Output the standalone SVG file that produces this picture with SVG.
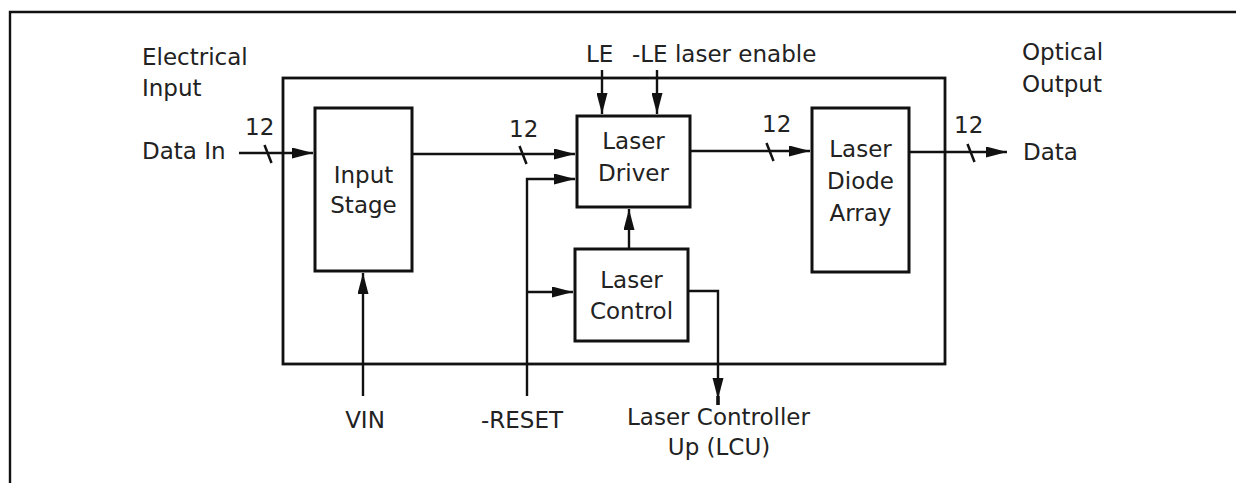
<svg xmlns="http://www.w3.org/2000/svg" width="1236" height="483" viewBox="0 0 1236 483">
<defs>
<marker id="ah" markerUnits="userSpaceOnUse" markerWidth="21" markerHeight="11" refX="21" refY="5.5" orient="auto">
<path d="M0,0 L21,5.5 L0,11 z" fill="#111"/>
</marker>
<style>
text{font-family:"DejaVu Sans","Liberation Sans",sans-serif;font-size:23px;fill:#222}
.m{text-anchor:middle}
.box{fill:#fff;stroke:#111;stroke-width:3}
.ln{fill:none;stroke:#111;stroke-width:2.4}
.arr{fill:none;stroke:#111;stroke-width:2.4;marker-end:url(#ah)}
.tk{stroke:#111;stroke-width:2.5}
</style>
</defs>
<rect width="1236" height="483" fill="#fff"/>
<path d="M10,483 V12 H1236" fill="none" stroke="#111" stroke-width="2.4"/>
<g id="main-box"><rect x="283" y="78" width="662" height="286" fill="none" stroke="#111" stroke-width="2.8"/></g>
<g id="labels">
<text x="142" y="65">Electrical</text>
<text x="142" y="96">Input</text>
<text x="142" y="159">Data In</text>
<text x="1022" y="60">Optical</text>
<text x="1022" y="92">Output</text>
<text x="1023" y="160">Data</text>
<text x="586" y="62">LE</text>
<text x="632" y="62">-LE laser enable</text>
<text x="365" y="428" class="m">VIN</text>
<text x="522" y="428" class="m">-RESET</text>
<text x="718.5" y="425" class="m">Laser Controller</text>
<text x="719" y="455" class="m">Up (LCU)</text>
<text x="245" y="135">12</text>
<text x="509" y="137">12</text>
<text x="762" y="132">12</text>
<text x="954" y="133">12</text>
</g>
<g id="input-stage"><rect class="box" x="315" y="108" width="97" height="163"/>
<text x="363.5" y="183" class="m">Input</text><text x="363.5" y="213" class="m">Stage</text></g>
<g id="laser-driver"><rect class="box" x="577" y="116" width="113" height="91"/>
<text x="633.5" y="149" class="m">Laser</text><text x="633.5" y="181" class="m">Driver</text></g>
<g id="laser-control"><rect class="box" x="575" y="249" width="113" height="92"/>
<text x="631.5" y="288" class="m">Laser</text><text x="631.5" y="319" class="m">Control</text></g>
<g id="laser-diode-array"><rect class="box" x="812" y="108" width="97" height="164"/>
<text x="860.5" y="157" class="m">Laser</text><text x="860.5" y="189" class="m">Diode</text><text x="860.5" y="221" class="m">Array</text></g>
<g id="connectors">
<line class="arr" x1="239" y1="153" x2="313" y2="153"/>
<line class="tk" x1="264.5" y1="145" x2="271.5" y2="163"/>
<line class="arr" x1="412" y1="154" x2="575" y2="154"/>
<line class="tk" x1="519.5" y1="146" x2="526.5" y2="164"/>
<line class="arr" x1="690" y1="151" x2="810" y2="151"/>
<line class="tk" x1="766.5" y1="143" x2="773.5" y2="161"/>
<line class="arr" x1="909" y1="152" x2="1007" y2="152"/>
<line class="tk" x1="967.5" y1="144" x2="974.5" y2="162"/>
<line class="arr" x1="602" y1="70" x2="602" y2="114"/>
<line class="arr" x1="657" y1="70" x2="657" y2="114"/>
<polyline class="arr" points="527,396 527,179 575,179"/>
<line class="arr" x1="527" y1="292" x2="573" y2="292"/>
<line class="arr" x1="363" y1="396" x2="363" y2="273"/>
<line class="arr" x1="629" y1="249" x2="629" y2="209"/>
<polyline class="ln" points="688,291 718,291 718,405"/>
<path d="M712.5,378 L723.5,378 L718,399 z" fill="#111"/>
<line x1="718" y1="396" x2="718" y2="405" stroke="#111" stroke-width="3.5"/>
</g>
</svg>
